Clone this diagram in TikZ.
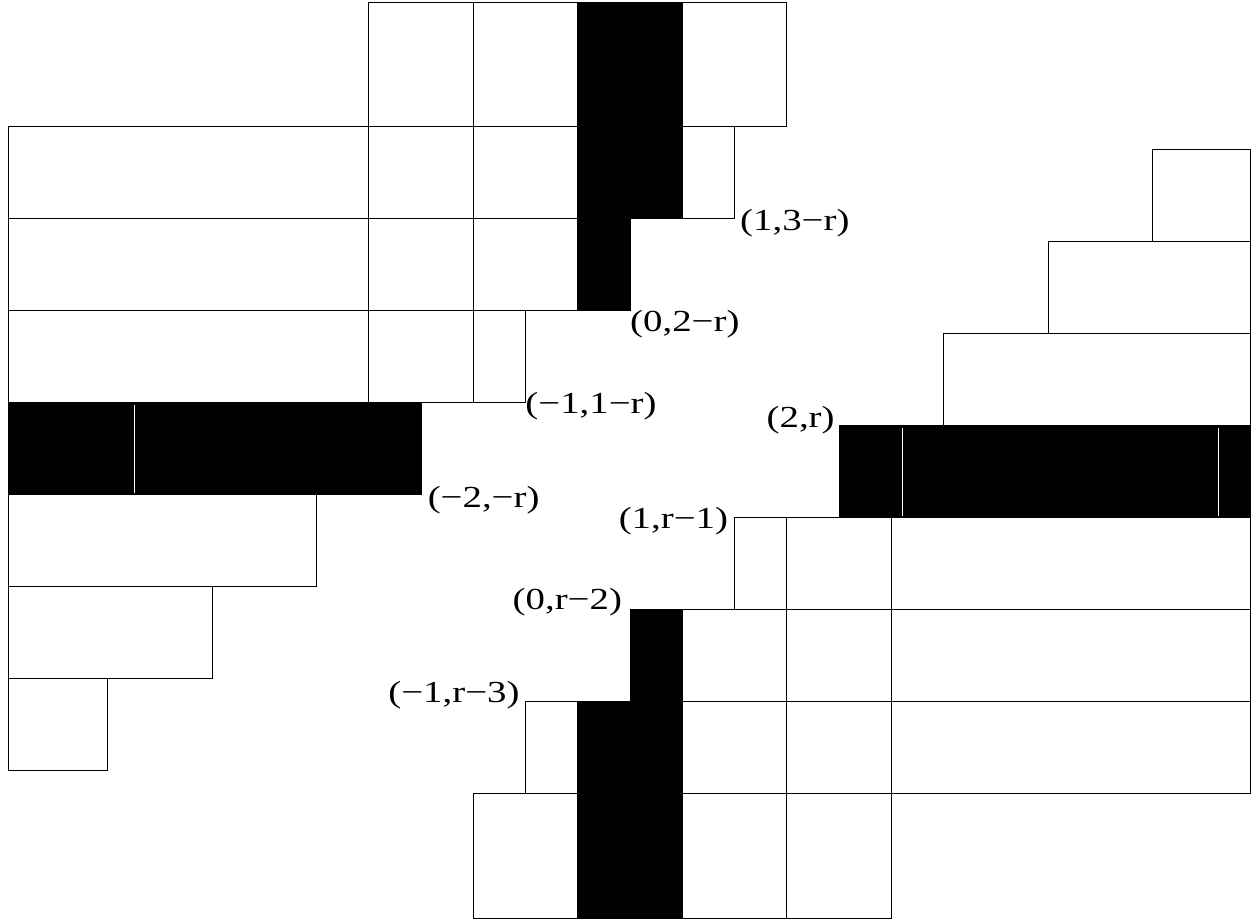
\documentclass[tikz,border=0pt]{standalone}
\usepackage{tikz}
\usepackage{fontspec}
\newfontfamily\labelfont[FakeStretch=1.27]{Liberation Serif}
\tikzset{
  cell/.style={draw=black, line width=0.6pt},
  dark/.style={fill=black, draw=black, line width=0.6pt},
  gap/.style={white, line width=0.5pt},
  lab/.style={inner sep=0pt, font=\labelfont\fontsize{17.4}{20}\selectfont}
}

\begin{document}
\begin{tikzpicture}[x=1.045cm, y=1.84cm]
    \useasboundingbox (-11.06,-5.64) rectangle (12.94,4.38);

    % Left staircase
    % Row 1
    \draw[cell] (-4,3) rectangle (-2,4.35);
    \draw[cell] (-2,3) rectangle (0,4.35);
    \draw[cell] (2,3) rectangle (4,4.35);
    % Row 2
    \draw[cell] (-10.9,2) rectangle (-4,3);
    \draw[cell] (-4,2) rectangle (-2,3);
    \draw[cell] (-2,2) rectangle (0,3);
    \draw[cell] (2,2) rectangle (3,3);
    % Row 3
    \draw[cell] (-10.9,1) rectangle (-4,2);
    \draw[cell] (-4,1) rectangle (-2,2);
    \draw[cell] (-2,1) rectangle (0,2);
    % Row 4
    \draw[cell] (-10.9,0) rectangle (-4,1);
    \draw[cell] (-4,0) rectangle (-2,1);
    \draw[cell] (-2,0) rectangle (-1,1);
    % Row 5
    \draw[dark] (-10.9,-1) rectangle (-3,0);
    \draw[gap] (-8.49,-0.98) -- (-8.49,-0.02);
    % Rows 6-8
    \draw[cell] (-10.9,-2) rectangle (-5,-1);
    \draw[cell] (-10.9,-3) rectangle (-7,-2);
    \draw[cell] (-10.9,-4) rectangle (-9,-3);
    % black column
    \draw[dark] (0,2) rectangle (2,4.35);
    \draw[dark] (0,1) rectangle (1,2);

    % Right staircase
    % Rows A-C
    \draw[cell] (11,1.75) rectangle (12.88,2.75);
    \draw[cell] (9,0.75) rectangle (12.88,1.75);
    \draw[cell] (7,-0.25) rectangle (12.88,0.75);
    % Row D
    \draw[dark] (5,-1.25) rectangle (12.88,-0.25);
    \draw[gap] (6.21,-1.23) -- (6.21,-0.27);
    \draw[gap] (12.25,-1.23) -- (12.25,-0.27);
    % Row E
    \draw[cell] (3,-2.25) rectangle (4,-1.25);
    \draw[cell] (4,-2.25) rectangle (6,-1.25);
    \draw[cell] (6,-2.25) rectangle (12.88,-1.25);
    % Row F
    \draw[cell] (2,-3.25) rectangle (4,-2.25);
    \draw[cell] (4,-3.25) rectangle (6,-2.25);
    \draw[cell] (6,-3.25) rectangle (12.88,-2.25);
    % Row G
    \draw[cell] (-1,-4.25) rectangle (0,-3.25);
    \draw[cell] (2,-4.25) rectangle (4,-3.25);
    \draw[cell] (4,-4.25) rectangle (6,-3.25);
    \draw[cell] (6,-4.25) rectangle (12.88,-3.25);
    % Row H
    \draw[cell] (-2,-5.6) rectangle (0,-4.25);
    \draw[cell] (2,-5.6) rectangle (4,-4.25);
    \draw[cell] (4,-5.6) rectangle (6,-4.25);
    % black column
    \draw[dark] (1,-3.25) rectangle (2,-2.25);
    \draw[dark] (0,-5.6) rectangle (2,-3.25);

    % Corner labels
    \node[lab, anchor=base west] (top1) at (3.10,1.874) {(1,3−r)};
    \node[lab, anchor=base west] (top0) at (0.995,0.779) {(0,2−r)};
    \node[lab, anchor=base west] (topm1) at (-1.01,-0.112) {(−1,1−r)};
    \node[lab, anchor=base west] (topm2) at (-2.88,-1.141) {(−2,−r)};
    \node[lab, anchor=base east] (bot2) at (4.92,-0.264) {(2,r)};
    \node[lab, anchor=base east] (bot1) at (2.88,-1.368) {(1,r−1)};
    \node[lab, anchor=base east] (bot0) at (0.85,-2.25) {(0,r−2)};
    \node[lab, anchor=base east] (botm1) at (-1.11,-3.253) {(−1,r−3)};
\end{tikzpicture}
\end{document}
